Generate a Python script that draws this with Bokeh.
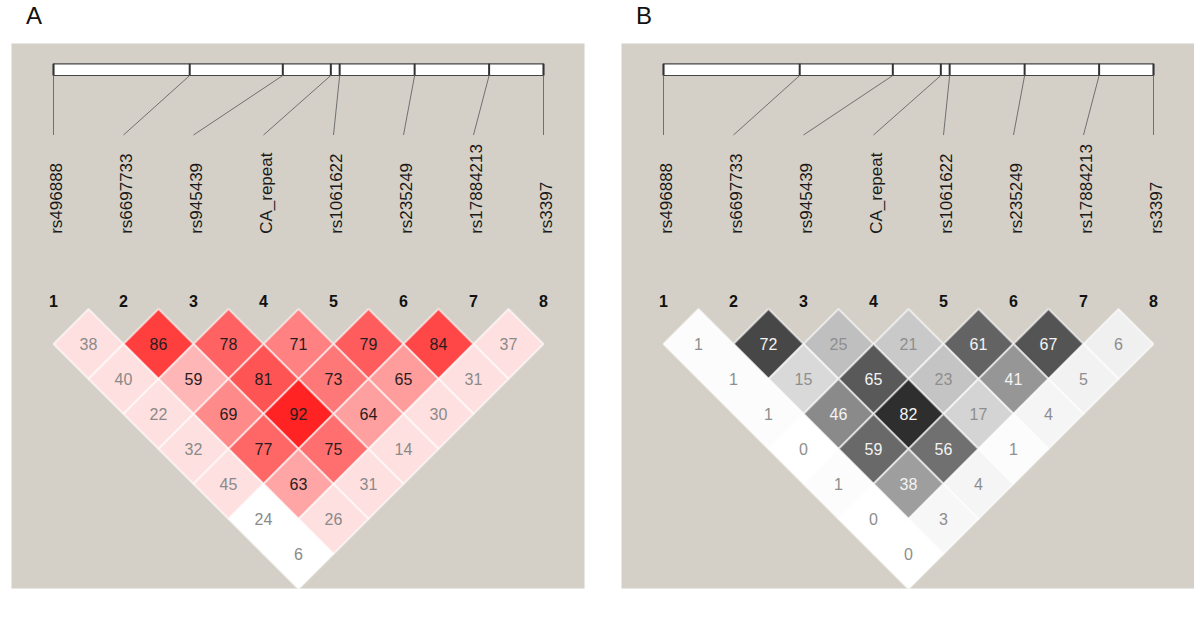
import numpy as np
from bokeh.plotting import figure
from bokeh.layouts import row, column
from bokeh.models import ColumnDataSource, Range1d, Div
from bokeh.core.properties import value
from bokeh.embed import file_html
from bokeh.resources import INLINE

# ---------------- data ----------------
markers = ["rs496888", "rs6697733", "rs945439", "CA_repeat",
           "rs1061622", "rs235249", "rs17884213", "rs3397"]
marker_numbers = ["1", "2", "3", "4", "5", "6", "7", "8"]
# relative physical position of each marker along the region (0 = first, 1 = last)
marker_rel_pos = [0.0, 0.278, 0.468, 0.566, 0.584, 0.737, 0.889, 1.0]

# D' x 100, by distance between markers (row 0 = adjacent pairs)
dprime_rows = [
    [38, 86, 78, 71, 79, 84, 37],
    [40, 59, 81, 73, 65, 31],
    [22, 69, 92, 64, 30],
    [32, 77, 75, 14],
    [45, 63, 31],
    [24, 26],
    [6],
]
# LOD >= 2 flag for each pair (same layout)
lod_sig_rows = [
    [1, 1, 1, 1, 1, 1, 1],
    [1, 1, 1, 1, 1, 1],
    [1, 1, 1, 1, 1],
    [1, 1, 1, 1],
    [1, 1, 1],
    [0, 1],
    [0],
]
# r^2 x 100
r2_rows = [
    [1, 72, 25, 21, 61, 67, 6],
    [1, 15, 65, 23, 41, 5],
    [1, 46, 82, 17, 4],
    [0, 59, 56, 1],
    [1, 38, 4],
    [0, 3],
    [0],
]

FONT = "Liberation Sans"
BG = "#d4d0c8"
N = len(markers)
SPAN = N - 1


def dprime_color(v, sig):
    if not sig:
        return "#ffffff", "#8a8a8a"
    g = int(min(224, 446 * (1 - v / 100.0)))
    txt = "#2a1c1c" if g < 200 else "#8a8a8a"
    return "#%02x%02x%02x" % (255, g, g), txt


def r2_color(v, sig):
    g = int(round(255 - 255 * v / 100.0))
    txt = "#f4f4f4" if g < 165 else "#8e8e8e"
    return "#%02x%02x%02x" % (g, g, g), txt


def cell_source(rows, sig_rows, colfun):
    xs, ys, cx, cy, lab, fc, tc = [], [], [], [], [], [], []
    for d, r in enumerate(rows):
        for i, v in enumerate(r):
            a = i + 1
            b = i + d + 2
            x0 = (a + b) / 2.0
            y0 = -d * 0.5
            xs.append([x0 - 0.5, x0, x0 + 0.5, x0])
            ys.append([y0, y0 + 0.5, y0, y0 - 0.5])
            cx.append(x0)
            cy.append(y0)
            lab.append(str(v))
            sig = sig_rows[d][i] if sig_rows is not None else 1
            f, t = colfun(v, sig)
            fc.append(f)
            tc.append(t)
    return ColumnDataSource(dict(xs=xs, ys=ys, cx=cx, cy=cy, lab=lab, fc=fc, tc=tc))


def panel(title, rows, sig_rows, colfun, width, bl, br):
    frame_w = width - bl - br
    p = figure(width=width, height=577, output_backend="svg", toolbar_location=None,
               x_range=Range1d(0.4, 0.4 + frame_w / 70.0),
               y_range=Range1d(-3.493, 4.293),
               x_axis_location=None, y_axis_location=None,
               min_border_left=bl, min_border_right=br,
               min_border_top=0, min_border_bottom=32)
    p.grid.visible = False
    p.outline_line_color = None
    p.background_fill_color = BG
    p.border_fill_color = "white"

    xk = np.arange(1, N + 1, dtype=float)
    xphys = 1 + SPAN * np.array(marker_rel_pos)

    # gene bar
    p.quad(left=[xphys[0]], right=[xphys[-1]], bottom=[3.836], top=[4.003],
           fill_color="white", line_color="#444444", line_width=1.2)
    p.segment(x0=xphys, y0=[3.836] * N, x1=xphys, y1=[4.003] * N,
              line_color="#333333", line_width=2)
    # connectors
    p.segment(x0=xphys, y0=[3.836] * N, x1=xk, y1=[2.986] * N,
              line_color="#707070", line_width=1)

    # marker names
    p.text(x=xk, y=[1.574] * N, text=markers, angle=np.pi / 2,
           text_align="left", text_baseline="middle", x_offset=3,
           text_font=value(FONT), text_font_size="17px", text_color="#1a1a1a")
    # marker numbers
    p.text(x=xk, y=[0.61] * N, text=marker_numbers,
           text_align="center", text_baseline="middle",
           text_font=value(FONT), text_font_size="16px",
           text_font_style="bold", text_color="#111111")

    src = cell_source(rows, sig_rows, colfun)
    p.patches("xs", "ys", source=src, fill_color="fc", line_color="white",
              line_alpha=0.6, line_width=2)
    p.text(x="cx", y="cy", text="lab", source=src, text_align="center",
           text_baseline="middle", text_font=value(FONT), text_font_size="16px",
           text_color="tc")

    head = Div(text=('<div style="font-family:\'%s\';font-size:24px;line-height:24px;'
                     'color:#111111;padding-left:%dpx;padding-top:4px;">%s</div>')
               % (FONT, bl + 15, title),
               width=width, height=43, margin=0)
    return column(head, p, spacing=0, margin=0)


pa = panel("A", dprime_rows, lod_sig_rows, dprime_color, 600, 11, 16)
pb = panel("B", r2_rows, None, r2_color, 594, 21, 0)
layout = row(pa, pb, spacing=0, margin=0)

open("out.html", "w").write(file_html(layout, INLINE))
